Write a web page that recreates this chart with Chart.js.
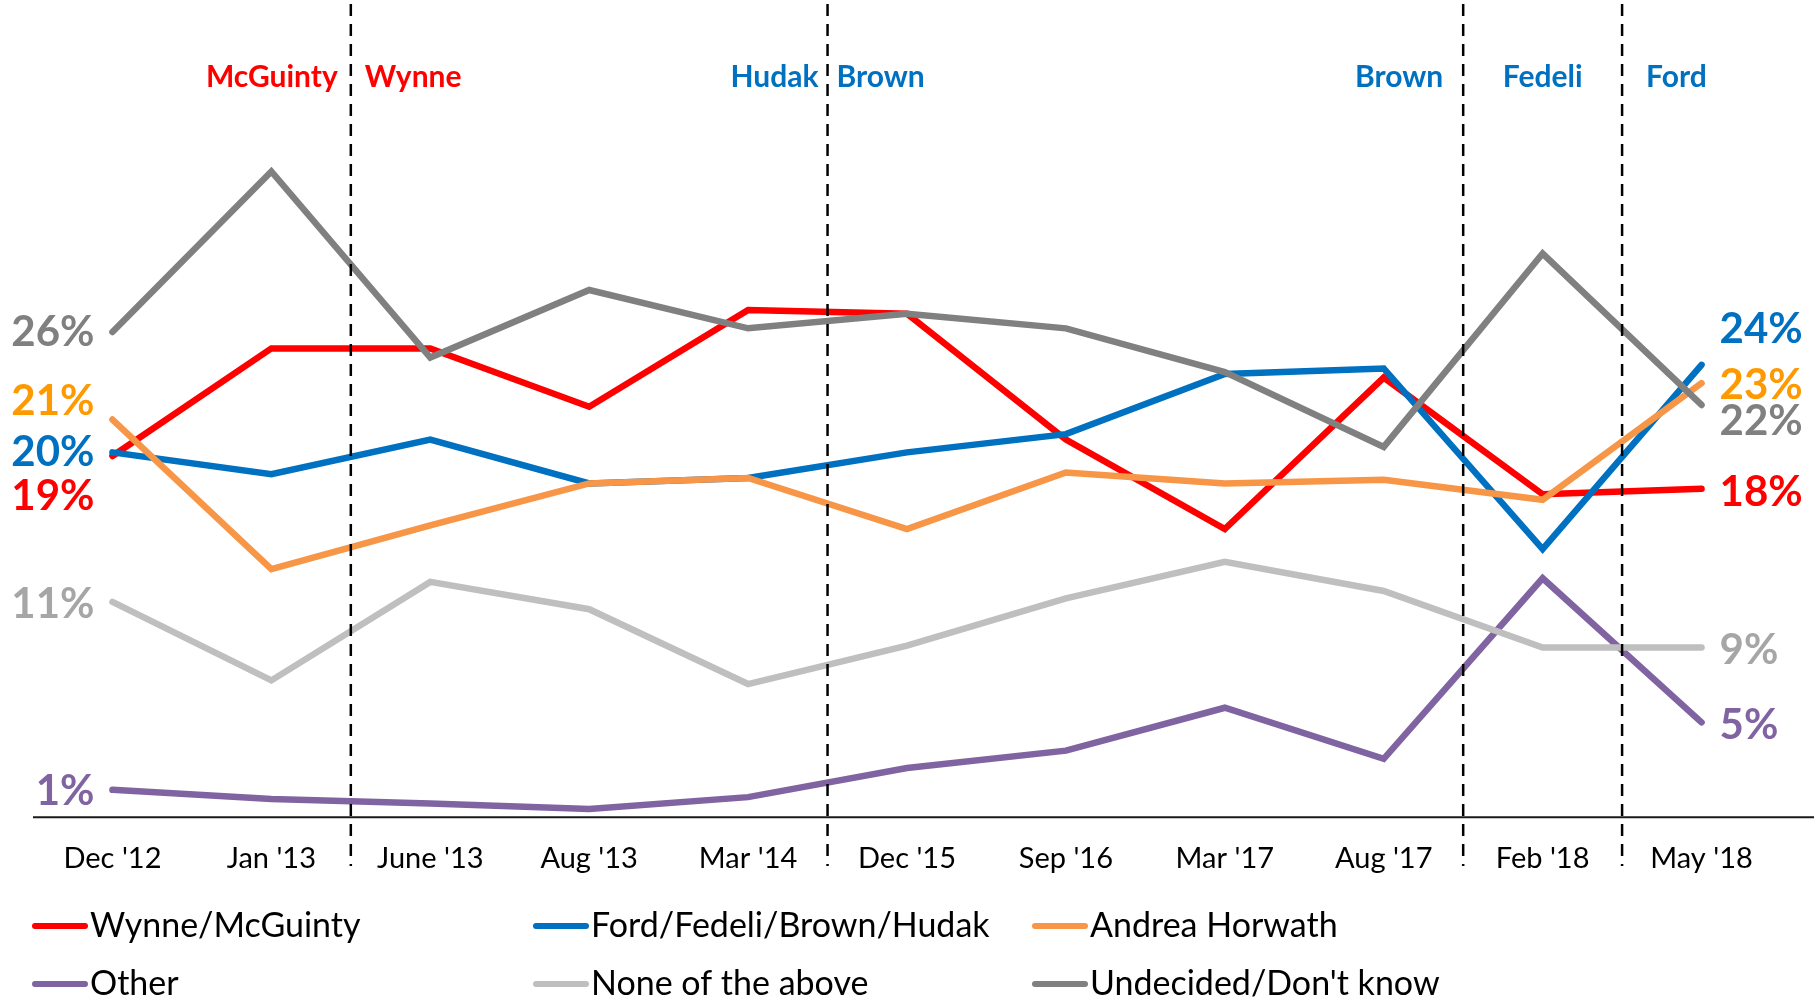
<!DOCTYPE html>
<html>
<head>
<meta charset="utf-8">
<script src="https://cdn.jsdelivr.net/npm/chart.js@4"></script>
<style>
  html, body { margin: 0; padding: 0; background: #fff; }
  #wrap { width: 1818px; height: 998px; }
</style>
</head>
<body>
<div id="wrap"><canvas id="pollChart" width="1818" height="998"></canvas></div>
<script>
// Data for the chart
const categories = ["Dec '12", "Jan '13", "June '13", "Aug '13", "Mar '14", "Dec '15", "Sep '16", "Mar '17", "Aug '17", "Feb '18", "May '18"];
const wynneMcGuinty = [19.4, 25.3, 25.3, 22.1, 27.4, 27.2, 20.3, 15.4, 23.7, 17.3, 17.6];
const fordFedeliBrownHudak = [19.6, 18.4, 20.3, 17.9, 18.2, 19.6, 20.6, 23.9, 24.2, 14.3, 24.4];
const andreaHorwath = [21.4, 13.2, 15.6, 17.9, 18.2, 15.4, 18.5, 17.9, 18.1, 17.0, 23.4];
const other = [1.1, 0.6, 0.35, 0.05, 0.7, 2.3, 3.25, 5.6, 2.8, 12.7, 4.8];
const noneOfTheAbove = [11.4, 7.1, 12.5, 11.0, 6.9, 9.0, 11.6, 13.6, 12.0, 8.9, 8.9];
const undecided = [26.2, 35.0, 24.8, 28.5, 26.4, 27.2, 26.4, 24.0, 19.9, 30.5, 22.2];

const seriesNames = ['Wynne/McGuinty', 'Ford/Fedeli/Brown/Hudak', 'Andrea Horwath', 'Other', 'None of the above', "Undecided/Don't know"];
const seriesData = [wynneMcGuinty, fordFedeliBrownHudak, andreaHorwath, other, noneOfTheAbove, undecided];
const lineColors = ['#FF0000', '#0070C0', '#F79646', '#8064A2', '#BFBFBF', '#808080'];
const labelColors = ['#FF0000', '#0070C0', '#FF9900', '#8064A2', '#A6A6A6', '#808080'];

// leader changes sit between two polls (index + 0.5)
const leaderBreaks = [1.5, 4.5, 8.5, 9.5];
const leaderNames = ['McGuinty', 'Wynne', 'Hudak', 'Brown', 'Brown', 'Fedeli', 'Ford'];
const leaderColors = ['#FF0000', '#FF0000', '#0070C0', '#0070C0', '#0070C0', '#0070C0', '#0070C0'];

const FONT = 'Lato, "Open Sans", sans-serif';

// label placement tweaks (pixels), so labels don't sit on top of each other
const startOffsets = [40, 0, -18, 2, 2, 0];
const endOffsets = [4, -35, 2, 3, 3, 17];
// leader names: [break index, side, gap]
const leaderPlacement = [[0, 'right', 13], [0, 'left', 14], [1, 'right', 9], [1, 'left', 9], [2, 'right', 20], [2, 'mid', 0], [3, 'left', 24]];

const overlay = {
    id: 'overlay',
    afterDatasetsDraw(chart) {
        const ctx = chart.ctx;
        const x = chart.scales.x;
        const y = chart.scales.y;
        const area = chart.chartArea;
        const breakX = leaderBreaks.map(b => (x.getPixelForValue(Math.floor(b)) + x.getPixelForValue(Math.ceil(b))) / 2);

        ctx.save();
        // baseline
        ctx.strokeStyle = '#1a1a1a';
        ctx.lineWidth = 2;
        ctx.beginPath();
        ctx.moveTo(area.left, area.bottom);
        ctx.lineTo(chart.width - 4, area.bottom);
        ctx.stroke();

        // dashed leader change lines
        ctx.setLineDash([12, 8]);
        ctx.lineWidth = 2.5;
        ctx.strokeStyle = '#000';
        breakX.forEach(bx => {
            ctx.beginPath();
            ctx.moveTo(bx, 4);
            ctx.lineTo(bx, 866);
            ctx.stroke();
        });
        ctx.setLineDash([]);

        // leader names
        ctx.font = 'bold 30px ' + FONT;
        ctx.textBaseline = 'middle';
        leaderPlacement.forEach((p, i) => {
            const bx = breakX[p[0]];
            ctx.fillStyle = leaderColors[i];
            if (p[1] === 'right') { ctx.textAlign = 'right'; ctx.fillText(leaderNames[i], bx - p[2], 77); }
            else if (p[1] === 'left') { ctx.textAlign = 'left'; ctx.fillText(leaderNames[i], bx + p[2], 77); }
            else { ctx.textAlign = 'center'; ctx.fillText(leaderNames[i], (bx + breakX[p[0] + 1]) / 2, 77); }
        });

        // start / end value labels
        ctx.font = 'bold 42px ' + FONT;
        const last = categories.length - 1;
        seriesData.forEach((d, i) => {
            ctx.fillStyle = labelColors[i];
            ctx.textAlign = 'right';
            ctx.fillText(Math.round(d[0]) + '%', x.getPixelForValue(0) - 18, y.getPixelForValue(d[0]) + startOffsets[i]);
            ctx.textAlign = 'left';
            ctx.fillText(Math.round(d[last]) + '%', x.getPixelForValue(last) + 18, y.getPixelForValue(d[last]) + endOffsets[i]);
        });

        // legend, 3 columns x 2 rows
        ctx.font = '34px ' + FONT;
        ctx.textAlign = 'left';
        const colX = [32, 533, 1032];
        const rowY = [926, 984];
        seriesNames.forEach((name, i) => {
            const cx = colX[i % 3];
            const cy = rowY[Math.floor(i / 3)];
            ctx.strokeStyle = lineColors[i];
            ctx.lineWidth = 6;
            ctx.lineCap = 'round';
            ctx.beginPath();
            ctx.moveTo(cx + 3, cy);
            ctx.lineTo(cx + 53, cy);
            ctx.stroke();
            ctx.fillStyle = '#000';
            ctx.fillText(name, cx + 58, cy);
        });
        ctx.restore();
    }
};

const ctx = document.getElementById('pollChart').getContext('2d');
const pollChart = new Chart(ctx, {
    type: 'line',
    data: {
        labels: categories,
        datasets: seriesData.map((d, i) => ({
            label: seriesNames[i],
            data: d,
            borderColor: lineColors[i],
            backgroundColor: lineColors[i],
            borderWidth: 6.5,
            borderCapStyle: 'round',
            borderJoinStyle: 'miter',
            pointRadius: 0,
            tension: 0,
            order: seriesData.length - i // later series drawn on top
        }))
    },
    options: {
        responsive: false,
        animation: false,
        layout: { padding: { left: 33, right: 37, top: 0, bottom: 98 } },
        plugins: {
            legend: { display: false },
            tooltip: { enabled: false }
        },
        scales: {
            x: {
                offset: true,
                grid: { display: false, drawTicks: false },
                border: { display: false },
                ticks: { color: '#000', font: { family: FONT, size: 29 }, padding: 24, maxRotation: 0, autoSkip: false }
            },
            y: {
                display: false,
                min: -0.4,
                max: 44.4
            }
        }
    },
    plugins: [overlay]
});
</script>
</body>
</html>
